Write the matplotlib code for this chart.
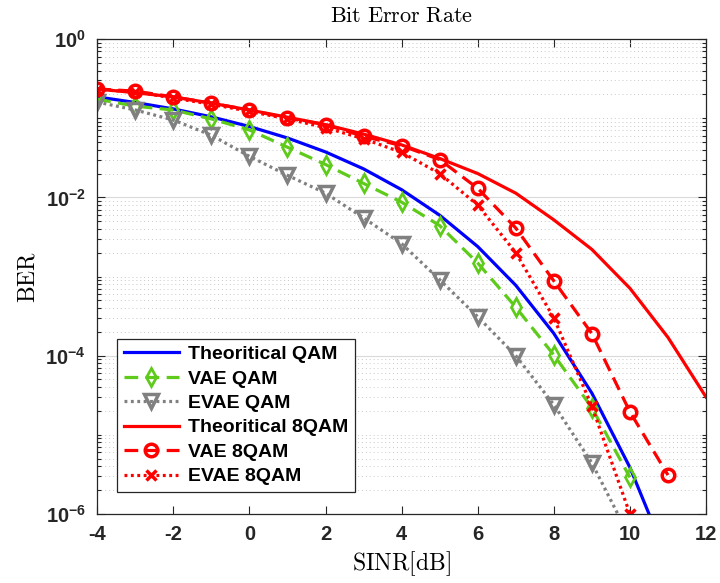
import matplotlib
matplotlib.use("Agg")
import matplotlib.pyplot as plt
from matplotlib.ticker import FixedLocator, LogLocator, NullFormatter, LogFormatterMathtext

plt.rcParams["font.family"] = ["Liberation Sans", "DejaVu Sans"]
plt.rcParams["font.weight"] = "bold"
plt.rcParams["axes.unicode_minus"] = False
plt.rcParams["mathtext.fontset"] = "custom"
plt.rcParams["mathtext.rm"] = "Liberation Sans:bold"
plt.rcParams["mathtext.it"] = "Liberation Sans:bold"
plt.rcParams["mathtext.bf"] = "Liberation Sans:bold"

# SINR points (dB)
sinr_theory = [-4, -3, -2, -1, 0, 1, 2, 3, 4, 5, 6, 7, 8, 9, 10, 11, 12]
sinr_vae8 = [-4, -3, -2, -1, 0, 1, 2, 3, 4, 5, 6, 7, 8, 9, 10, 11]
sinr_sim = [-4, -3, -2, -1, 0, 1, 2, 3, 4, 5, 6, 7, 8, 9, 10]

# BER curves
ber_theory_qam = [0.186, 0.158, 0.131, 0.104, 0.0786, 0.0563, 0.0375, 0.0229, 0.0125,
                  5.95e-3, 2.39e-3, 7.74e-4, 1.91e-4, 3.36e-5, 3.87e-6, 2.61e-7, 9.0e-9]
ber_vae_qam = [0.174, 0.142, 0.127, 0.098, 0.071, 0.043, 0.026, 0.015, 8.7e-3,
               4.4e-3, 1.48e-3, 4.1e-4, 1.02e-4, 2.2e-5, 2.9e-6]
ber_evae_qam = [0.16, 0.127, 0.095, 0.061, 0.033, 0.019, 0.0113, 5.5e-3, 2.6e-3,
                9.1e-4, 3.1e-4, 1.0e-4, 2.4e-5, 4.4e-6, 5.0e-7]
ber_theory_8qam = [0.234, 0.21, 0.186, 0.155, 0.127, 0.103, 0.083, 0.063, 0.046,
                   0.031, 0.020, 0.0113, 5.2e-3, 2.2e-3, 7.1e-4, 1.7e-4, 3.0e-5]
ber_vae_8qam = [0.234, 0.22, 0.186, 0.155, 0.127, 0.10, 0.083, 0.059, 0.045,
                0.030, 0.013, 4.1e-3, 8.8e-4, 1.9e-4, 1.95e-5, 3.1e-6]
ber_evae_8qam = [0.23, 0.215, 0.18, 0.15, 0.122, 0.098, 0.076, 0.055, 0.037,
                 0.020, 8.0e-3, 2.0e-3, 3.0e-4, 2.3e-5, 1.0e-6]

green = "#5ECB1B"
gray = "#808080"
lw = 2.3
dash = (4.3, 2.3)
dot = (0.9, 1.1)

fig = plt.figure(figsize=(7.2, 5.83), dpi=100)
ax = fig.add_axes([0.135, 0.1184, 0.8456, 0.8146])

ax.semilogy(sinr_theory, ber_theory_qam, color="blue", lw=lw, label="Theoritical QAM")
ax.semilogy(sinr_sim, ber_vae_qam, color=green, lw=lw, dashes=dash, marker="d",
            ms=9, mfc="none", mew=2, label="VAE QAM")
ax.semilogy(sinr_sim, ber_evae_qam, color=gray, lw=lw, dashes=dot, marker="v",
            ms=10, mfc="none", mew=2.5, label="EVAE QAM")
ax.semilogy(sinr_theory, ber_theory_8qam, color="red", lw=lw, label="Theoritical 8QAM")
ax.semilogy(sinr_vae8, ber_vae_8qam, color="red", lw=lw, dashes=dash, marker="o",
            ms=9, mfc="none", mew=2.5, label="VAE 8QAM")
ax.semilogy(sinr_sim, ber_evae_8qam, color="red", lw=lw, dashes=dot, marker="x",
            ms=7, mew=2.5, label="EVAE 8QAM")

ax.set_xlim(-4, 12)
ax.set_ylim(1e-6, 1)
ax.set_xticks(range(-4, 13, 2))
ax.yaxis.set_major_locator(FixedLocator([1e-6, 1e-4, 1e-2, 1]))
ax.yaxis.set_major_formatter(LogFormatterMathtext())
ax.yaxis.set_minor_locator(LogLocator(base=10, subs=range(1, 10), numticks=20))
ax.yaxis.set_minor_formatter(NullFormatter())

ax.tick_params(which="both", direction="in", top=True, right=True,
               labelsize=14.5, colors="#262626", width=0.8)
ax.tick_params(which="major", length=6, pad=8)
ax.tick_params(which="minor", length=3)
for s in ax.spines.values():
    s.set_color("#262626")
    s.set_linewidth(0.9)

ax.grid(True, which="major", axis="y", color="#dadada", lw=0.8, ls="-")
ax.grid(True, which="minor", axis="y", color="#c8c8c8", lw=0.7, ls=(0, (1, 3)))
ax.set_axisbelow(True)

ax.set_title(r"$\mathrm{Bit\ Error\ Rate}$", fontsize=16, math_fontfamily="cm", pad=12)
ax.set_xlabel(r"$\mathrm{SINR[dB]}$", fontsize=17, math_fontfamily="cm", labelpad=4)
ax.set_ylabel(r"$\mathrm{BER}$", fontsize=17, math_fontfamily="cm", labelpad=4)

leg = ax.legend(loc="lower left", bbox_to_anchor=(0.033, 0.046), fontsize=14,
                handlelength=2.8, labelspacing=0.35, borderpad=0.35,
                handletextpad=0.5, fancybox=False, framealpha=1, borderaxespad=0)
leg.get_frame().set_edgecolor("#262626")
leg.get_frame().set_linewidth(0.9)

fig.savefig("out.png", dpi=100)
